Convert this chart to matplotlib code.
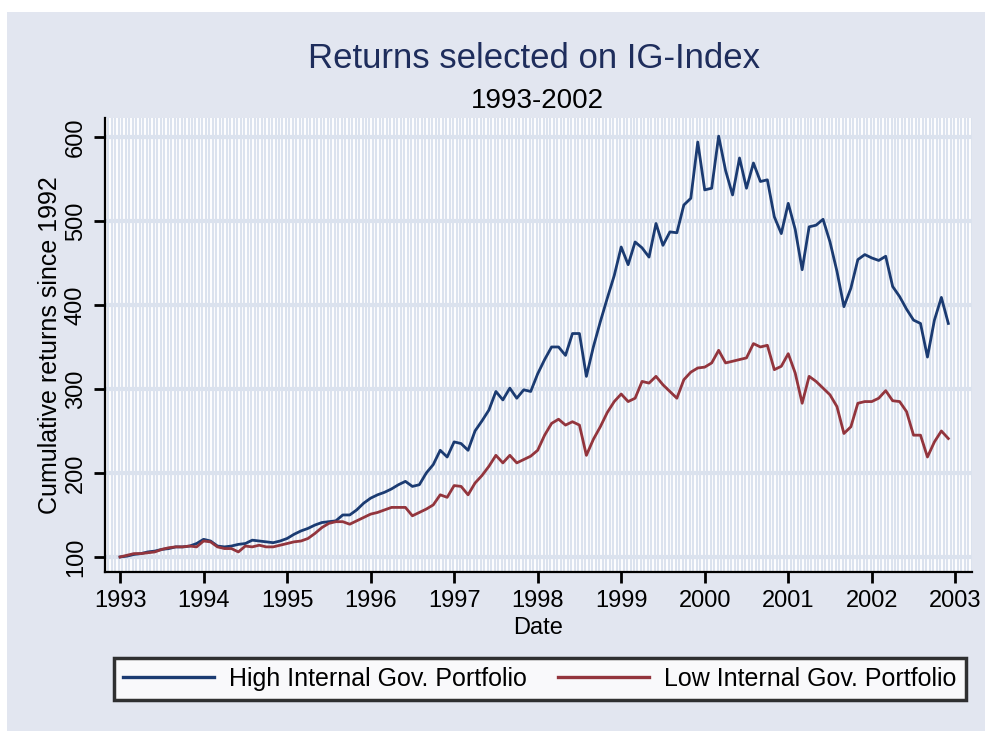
import numpy as np
import matplotlib
matplotlib.use("Agg")
import matplotlib.pyplot as plt
from matplotlib.patches import Rectangle

# ---- data (monthly, Jan 1993 - Dec 2002) ----
start_year = 1993
high_gov = [100, 101, 103, 104, 106, 107, 109, 110, 112, 112, 113, 116,
            121, 119, 113, 112, 113, 115, 116, 120, 119, 118, 117, 119,
            122, 127, 131, 134, 138, 141, 142, 143, 150, 150, 156, 164,
            170, 174, 177, 181, 186, 190, 184, 186, 200, 210, 227, 219,
            237, 235, 227, 250, 262, 275, 297, 287, 301, 289, 299, 297,
            318, 335, 350, 350, 340, 366, 366, 315, 350, 380, 408, 435,
            469, 448, 475, 468, 457, 497, 471, 487, 486, 519, 527, 594,
            537, 539, 601, 560, 531, 575, 539, 569, 547, 549, 505, 485,
            521, 490, 442, 493, 495, 502, 475, 440, 398, 420, 454, 460,
            456, 453, 458, 422, 410, 395, 382, 378, 338, 382, 409, 378]
low_gov = [100, 102, 104, 104, 105, 106, 109, 111, 112, 112, 113, 112,
           119, 118, 112, 110, 110, 106, 113, 112, 114, 112, 112, 114,
           116, 118, 119, 122, 128, 135, 140, 142, 142, 139, 143, 147,
           151, 153, 156, 159, 159, 159, 149, 153, 157, 162, 174, 171,
           185, 184, 174, 188, 197, 208, 221, 212, 221, 212, 216, 220,
           227, 245, 259, 264, 257, 261, 257, 221, 240, 255, 272, 285,
           294, 285, 289, 309, 307, 315, 305, 297, 289, 311, 320, 325,
           326, 331, 346, 331, 333, 335, 337, 354, 350, 352, 323, 327,
           342, 319, 283, 315, 309, 301, 293, 279, 247, 255, 283, 285,
           285, 289, 298, 286, 285, 273, 245, 245, 219, 237, 250, 241]
x_ticks = list(range(1993, 2004))
y_ticks = [100, 200, 300, 400, 500, 600]
series_labels = ["High Internal Gov. Portfolio", "Low Internal Gov. Portfolio"]
title = "Returns selected on IG-Index"
subtitle = "1993-2002"
x_label = "Date"
y_label = "Cumulative returns since 1992"

dates = start_year + np.arange(len(high_gov)) / 12.0

# ---- style ----
FONT = "Liberation Sans"
BG = "#e2e6f0"
GRID = "#dbe2ee"
BLUE = "#1b3b72"
RED = "#93353d"

fig = plt.figure(figsize=(9.85, 7.31), dpi=100, facecolor="white")
fig.patches.append(Rectangle((7 / 985, 0), 1, 1 - 12 / 731, transform=fig.transFigure,
                             facecolor=BG, edgecolor="none", zorder=-10))

ax = fig.add_axes([105 / 985, 1 - 572 / 731, (972 - 105) / 985, (572 - 118) / 731])
ax.set_facecolor("white")

# vertical striped grid
for xv in np.arange(1992.82, 2003.2, 1 / 24):
    ax.axvline(xv, color=GRID, lw=1.5, zorder=0)
for yv in y_ticks:
    ax.axhline(yv, color=GRID, lw=3.0, zorder=0.5)

h1, = ax.plot(dates, high_gov, color=BLUE, lw=2.0, label=series_labels[0], zorder=3)
h2, = ax.plot(dates, low_gov, color=RED, lw=2.0, label=series_labels[1], zorder=3)

ax.set_xlim(1992.82, 2003.2)
ax.set_ylim(82.1, 622.6)
ax.set_xticks(x_ticks)
ax.set_yticks(y_ticks)
ax.set_xticklabels([str(t) for t in x_ticks], fontsize=17, family=FONT)
ax.set_yticklabels([str(t) for t in y_ticks], fontsize=17, family=FONT,
                   rotation=90, va="center")
ax.tick_params(axis="both", direction="out", length=8, width=2, color="black", pad=5)

for s in ["top", "right"]:
    ax.spines[s].set_visible(False)
for s in ["left", "bottom"]:
    ax.spines[s].set_linewidth(1.6)
    ax.spines[s].set_color("black")

ax.set_xlabel(x_label, fontsize=17, family=FONT)
ax.set_ylabel(y_label, fontsize=18, family=FONT)
ax.xaxis.set_label_coords((538 - 105) / 867, -(628 - 572) / 454)
ax.yaxis.set_label_coords(-(105 - 50) / 867, (572 - 345) / 454)
ax.xaxis.label.set_va("center")
ax.yaxis.label.set_va("center")

fig.text(533.5 / 985, 1 - 58 / 731, title, fontsize=25, family=FONT, color="#1e2d5c",
         ha="center", va="center")
fig.text(537 / 985, 1 - 101 / 731, subtitle, fontsize=20, family=FONT, color="black",
         ha="center", va="center")

leg = fig.legend(handles=[h1, h2], labels=series_labels, ncol=2,
                 loc="center", bbox_to_anchor=(540 / 985, 1 - 679 / 731),
                 prop={"family": FONT, "size": 18}, frameon=True, fancybox=False,
                 handlelength=3.64, handletextpad=0.6, borderpad=0.36,
                 columnspacing=1.24)
frame = leg.get_frame()
frame.set_edgecolor("black")
frame.set_linewidth(2.5)
frame.set_facecolor("white")
for l in leg.get_lines():
    l.set_linewidth(2.4)

fig.savefig("out.png", dpi=100, facecolor=fig.get_facecolor())
